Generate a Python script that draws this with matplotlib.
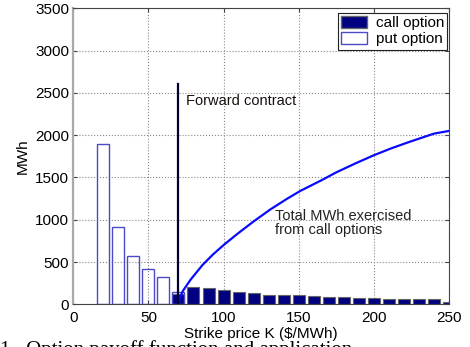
import matplotlib
matplotlib.use("Agg")
import matplotlib.pyplot as plt
from matplotlib.patches import Patch

plt.rcParams['font.family'] = ['Liberation Sans', 'DejaVu Sans']

# put options (strike price, MWh)
put_strikes = [20, 30, 40, 50, 60, 70]
put_mwh = [1900, 920, 575, 415, 320, 140]

# call options (strike price, MWh)
call_strikes = [70, 80, 90, 100, 110, 120, 130, 140, 150, 160,
                170, 180, 190, 200, 210, 220, 230, 240, 250]
call_mwh = [118, 209, 193, 169, 145, 130, 114, 106, 106, 102,
            91, 83, 75, 79, 67, 67, 59, 59, 24]

# total MWh exercised from call options
curve_k = [70, 71, 73, 78, 86, 93, 100, 109, 120, 131, 142, 151, 165,
           175, 188, 200, 211, 222, 232, 240, 250]
curve_mwh = [0, 80, 160, 290, 465, 590, 700, 830, 980, 1120, 1245, 1340,
             1465, 1560, 1668, 1762, 1840, 1910, 1970, 2018, 2050]

forward_k = 70
forward_mwh = 2610

fig = plt.figure(figsize=(4.7, 3.47), dpi=100)
ax = fig.add_axes([0.156, 0.123, 0.799, 0.853])

ax.bar(call_strikes, call_mwh, width=8, color='#000080', edgecolor='#666666',
       linewidth=0.8, zorder=2)
ax.bar(put_strikes, put_mwh, width=8, facecolor='none', edgecolor='#4b4bc8',
       linewidth=1.0, zorder=3)
ax.plot(curve_k, curve_mwh, color='#0a0aff', lw=1.6, zorder=4)
ax.plot([forward_k, forward_k], [0, forward_mwh], color='#000033', lw=1.6, zorder=5)

ax.text(75, 2400, 'Forward contract', fontsize=10.5, va='center', color='#1a1010')
ax.text(134, 1130, 'Total MWh exercised\nfrom call options', fontsize=10.5,
        va='top', color='#222222', linespacing=1.0)

ax.set_xlim(0, 250)
ax.set_ylim(0, 3500)
ax.set_xticks([0, 50, 100, 150, 200, 250])
ax.set_yticks(range(0, 3501, 500))
ax.tick_params(direction='in', top=True, right=True, labelsize=11, length=3,
               color='#444444')
ax.tick_params(axis='y', pad=3)
ax.tick_params(axis='x', pad=5)
ax.grid(True, linestyle=':', color='#888888', lw=0.8)
ax.set_axisbelow(True)
for s in ['top', 'right', 'bottom']:
    ax.spines[s].set_color('#444444')
ax.spines['left'].set_color('#aaaaaa')
ax.spines['left'].set_linewidth(1.6)

ax.set_xlabel('Strike price K ($/MWh)', fontsize=11, labelpad=1)
ax.set_ylabel('MWh', fontsize=11, labelpad=4)

handles = [Patch(facecolor='#000080', edgecolor='#666666', label='call option'),
           Patch(facecolor='white', edgecolor='#4b4bc8', label='put option')]
leg = ax.legend(handles=handles, loc='upper right', bbox_to_anchor=(1.0, 0.99),
                fontsize=11, fancybox=False, framealpha=1, edgecolor='#222222',
                handlelength=1.7, handleheight=0.8, labelspacing=0.15,
                borderpad=0.2, handletextpad=0.6, borderaxespad=0.1)
leg.get_frame().set_linewidth(0.8)

# figure caption, cut off at the bottom edge as in the scan
fig.text(0.0, 0.02, '1.  Option payoff function and application', fontsize=15,
         family='Liberation Serif', va='top', ha='left')

fig.savefig('out.png', dpi=100)
